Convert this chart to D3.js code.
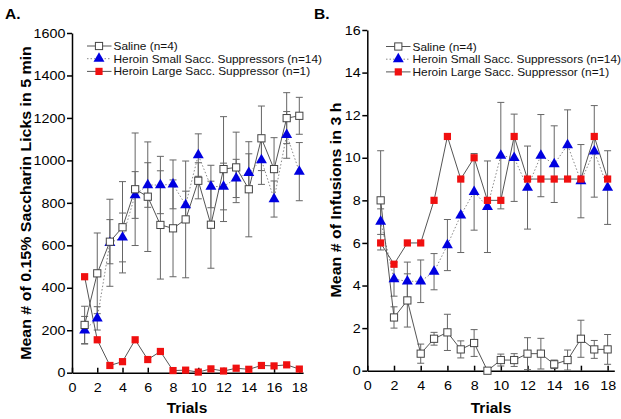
<!DOCTYPE html>
<html><head><meta charset="utf-8">
<script src="https://cdn.jsdelivr.net/npm/d3@7"></script>
<style>
html,body{margin:0;padding:0;background:#fff;}
text{font-family:Arial,"Liberation Sans",sans-serif;}
</style></head>
<body><svg id="c" width="621" height="419"></svg>
<script>
const trials = [1,2,3,4,5,6,7,8,9,10,11,12,13,14,15,16,17,18];
const xTicks = [0,2,4,6,8,10,12,14,16,18];
const yTicksA = [0,200,400,600,800,1000,1200,1400,1600];
const yTicksB = [0,2,4,6,8,10,12,14,16];
const seriesNames = ["Saline (n=4)","Heroin Small Sacc. Suppressors (n=14)","Heroin Large Sacc. Suppressor (n=1)"];

// Panel A: licks
const salineA    = [225,468,617,685,864,829,696,680,722,904,697,959,967,864,1104,959,1199,1210];
const salineAErr = [88,190,104,215,265,258,255,228,275,85,205,247,166,224,152,148,120,87];
const smallA     = [200,256,612,637,837,884,884,887,790,1025,877,877,915,941,1002,818,1120,947];
const smallAErr  = [65,55,205,115,110,105,135,115,65,100,100,110,90,90,115,85,110,137];
const largeA     = [452,155,34,52,155,62,100,10,12,3,18,8,21,16,34,32,37,17];

// Panel B: infusions
const salineB    = [8.0,2.5,3.3,0.8,1.5,1.8,1.0,1.3,0.0,0.5,0.5,0.8,0.8,0.3,0.5,1.5,1.0,1.0];
const salineBErr = [2.33,0.5,1.25,0.45,0.3,0.85,0.4,0.63,0,0.28,0.3,0.75,0.72,0.2,0.47,0.87,0.42,0.7];
const smallB     = [7.0,4.3,4.2,4.2,4.65,5.9,7.3,8.4,7.7,10.1,10.0,8.6,10.1,9.7,10.6,8.9,10.3,8.6];
const smallBErr  = [0.6,0.8,0.9,1.0,0.85,1.2,1.75,1.8,2.15,2.5,2.05,1.95,1.93,1.8,1.65,1.72,2.15,1.73];
const largeB     = [6,5,6,6,8,11,9,10,8,8,11,9,9,9,9,9,11,9];

const svg = d3.select("#c");
const lineCol = "#555", errCol = "#666";

function panel(cfg){
  const g = svg.append("g");
  const x = d3.scaleLinear().domain(cfg.xDom).range(cfg.xr);
  const y = d3.scaleLinear().domain(cfg.yDom).range(cfg.yr);

  const ya = g.append("g").attr("transform",`translate(${cfg.xr[0]},0)`)
    .call(d3.axisLeft(y).tickValues(cfg.yTicks).tickSize(5).tickSizeOuter(0).tickPadding(1).tickFormat(d3.format("d")));
  const xa = g.append("g").attr("transform",`translate(0,${cfg.yr[0]})`)
    .call(d3.axisBottom(x).tickValues(xTicks).tickSize(-5).tickSizeOuter(0).tickPadding(10));
  [ya,xa].forEach(a=>{
    a.select(".domain").attr("stroke","#000").attr("stroke-width",1.5);
    a.selectAll(".tick line").attr("stroke","#000").attr("stroke-width",1.5);
    a.selectAll(".tick text").attr("font-size",13).attr("fill","#000")
     .attr("font-family","Arial, 'Liberation Sans', sans-serif")
     .attr("transform","scale(1.1,1)");
  });

  // error bars
  const eb = (vals, errs) => {
    const gg = g.append("g").attr("stroke",errCol).attr("stroke-width",1);
    trials.forEach((t,i)=>{
      if(!errs[i]) return;
      const cx = x(t), y1 = y(vals[i]+errs[i]), y2 = y(Math.max(0,vals[i]-errs[i]));
      gg.append("line").attr("x1",cx).attr("x2",cx).attr("y1",y1).attr("y2",y2);
      gg.append("line").attr("x1",cx-3.5).attr("x2",cx+3.5).attr("y1",y1).attr("y2",y1);
      gg.append("line").attr("x1",cx-3.5).attr("x2",cx+3.5).attr("y1",y2).attr("y2",y2);
    });
  };
  eb(cfg.saline, cfg.salineErr);
  eb(cfg.small, cfg.smallErr);

  const ln = d3.line().x((d,i)=>x(trials[i])).y(d=>y(d));
  g.append("path").datum(cfg.small).attr("d",ln).attr("fill","none").attr("stroke","#888").attr("stroke-width",1).attr("stroke-dasharray","1.5,2");
  g.append("path").datum(cfg.saline).attr("d",ln).attr("fill","none").attr("stroke",lineCol).attr("stroke-width",1);
  g.append("path").datum(cfg.large).attr("d",ln).attr("fill","none").attr("stroke",lineCol).attr("stroke-width",1);

  const tri = d3.symbol().type(d3.symbolTriangle).size(52);
  g.append("g").selectAll("path").data(cfg.small).join("path")
    .attr("d",tri).attr("transform",(d,i)=>`translate(${x(trials[i])},${y(d)})`).attr("fill","#0000e0");
  g.append("g").selectAll("rect").data(cfg.saline).join("rect")
    .attr("x",(d,i)=>x(trials[i])-3.6).attr("y",d=>y(d)-3.6).attr("width",7.2).attr("height",7.2)
    .attr("fill","#fff").attr("stroke","#444").attr("stroke-width",1);
  g.append("g").selectAll("rect").data(cfg.large).join("rect")
    .attr("x",(d,i)=>x(trials[i])-3.6).attr("y",d=>y(d)-3.6).attr("width",7.2).attr("height",7.2)
    .attr("fill","#f01010");

  // legend
  const L = cfg.leg;
  const rows = [L.y0, L.y0+12.7, L.y0+25.4];
  const lg = g.append("g");
  lg.append("line").attr("x1",L.x0).attr("x2",L.x1).attr("y1",rows[0]).attr("y2",rows[0]).attr("stroke",lineCol);
  lg.append("rect").attr("x",L.xm-3.6).attr("y",rows[0]-3.6).attr("width",7.2).attr("height",7.2).attr("fill","#fff").attr("stroke","#444");
  lg.append("line").attr("x1",L.x0).attr("x2",L.x1).attr("y1",rows[1]).attr("y2",rows[1]).attr("stroke","#888").attr("stroke-dasharray","1.5,2");
  lg.append("path").attr("d",tri).attr("transform",`translate(${L.xm},${rows[1]})`).attr("fill","#0000e0");
  lg.append("line").attr("x1",L.x0).attr("x2",L.x1).attr("y1",rows[2]).attr("y2",rows[2]).attr("stroke",lineCol);
  lg.append("rect").attr("x",L.xm-3.6).attr("y",rows[2]-3.6).attr("width",7.2).attr("height",7.2).attr("fill","#f01010");
  seriesNames.forEach((s,i)=>{
    lg.append("text").attr("transform",`translate(${L.x1+2},${rows[i]+4}) scale(1.13,1)`)
      .attr("font-size",10.5).attr("fill","#111").text(s);
  });

  // titles
  g.append("text").attr("transform",`translate(${cfg.ytx},${cfg.yty}) rotate(-90) scale(1.1,1)`)
    .attr("text-anchor","middle").attr("font-weight","bold").attr("font-size",14.5).text(cfg.yTitle);
  g.append("text").attr("x",cfg.xtx).attr("y",413).attr("text-anchor","middle")
    .attr("font-weight","bold").attr("font-size",15.5).text("Trials");
  g.append("text").attr("x",cfg.px).attr("y",19).attr("font-weight","bold").attr("font-size",15.5).text(cfg.label);
}

panel({xDom:[0,18.3], xr:[72,303.1], yDom:[0,1600], yr:[372.7,33], yTicks:yTicksA,
  saline:salineA, salineErr:salineAErr, small:smallA, smallErr:smallAErr, large:largeA,
  leg:{x0:87,x1:111.5,xm:99,y0:46}, yTitle:"Mean # of 0.15% Saccharin Licks in 5 min",
  ytx:31, yty:203, xtx:187, px:5, label:"A."});
panel({xDom:[0,18.5], xr:[367.3,614.3], yDom:[0,16], yr:[370.7,30], yTicks:yTicksB,
  saline:salineB, salineErr:salineBErr, small:smallB, smallErr:smallBErr, large:largeB,
  leg:{x0:386,x1:410.5,xm:398.3,y0:46.5}, yTitle:"Mean # of Infusions in 3 h",
  ytx:341, yty:200, xtx:491, px:314, label:"B."});
</script></body></html>
